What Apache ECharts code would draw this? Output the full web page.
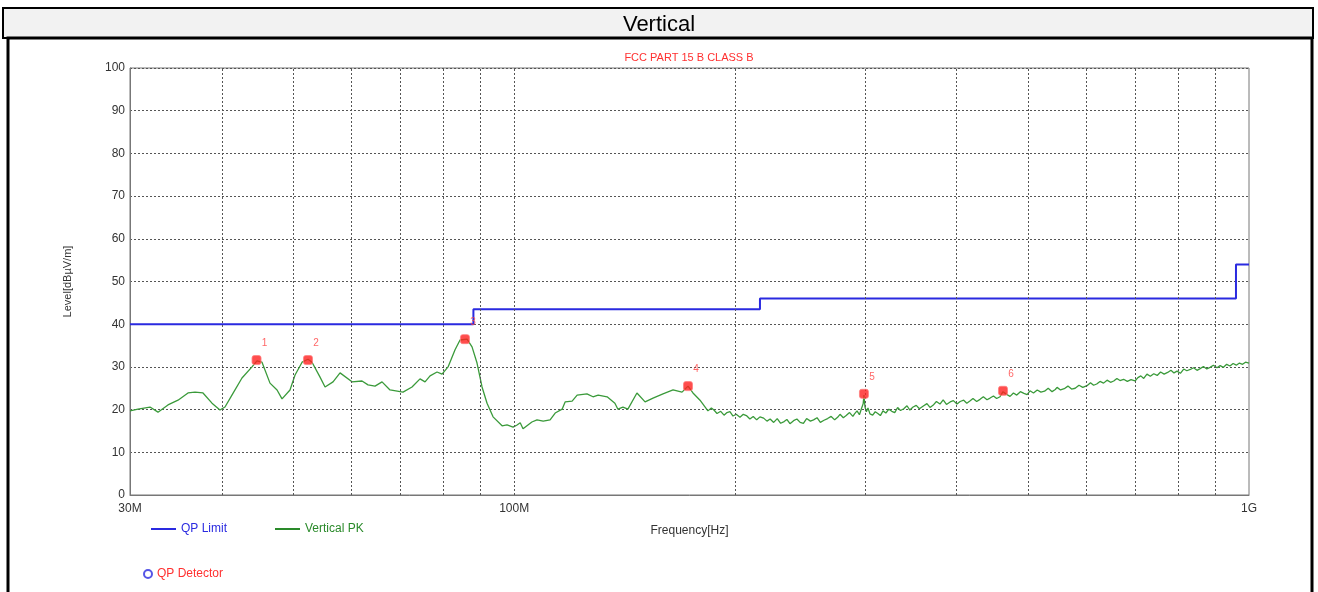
<!DOCTYPE html>
<html>
<head>
<meta charset="utf-8">
<script src="https://cdn.jsdelivr.net/npm/echarts@6/dist/echarts.min.js"></script>
<style>
html,body{margin:0;padding:0;background:#fff;}
#chart{width:1318px;height:592px;}
</style>
</head>
<body>
<div id="chart"></div>
<script>
// ---- data ----
const headerTitle = 'Vertical';
const chartTitle = 'FCC PART 15 B CLASS B';
const xTickLabels = {30: '30M', 100: '100M', 1000: '1G'};
const xGridFreqs = [40,50,60,70,80,90,100,200,300,400,500,600,700,800,900];

// QP limit (MHz, dBuV/m) as step points
const limitFreq  = [30, 88, 88, 216, 216, 960, 960, 1000];
const limitLevel = [40, 40, 43.5, 43.5, 46, 46, 54, 54];

// Vertical PK trace (MHz, dBuV/m)
const pkFreq = [
30.0,30.76,31.94,32.75,33.79,34.87,35.98,36.78,37.71,38.79,39.77,40.40,41.29,42.61,43.97,44.66,45.37,46.52,47.56,48.31,
49.53,50.32,51.44,52.41,53.07,54.42,55.28,56.68,57.94,60.15,62.07,63.25,64.65,66.09,67.76,70.58,72.60,74.44,75.62,76.82,
78.52,79.76,81.28,83.08,84.39,86.26,87.62,89.00,90.41,91.84,93.59,96.27,97.79,99.64,100.9,101.9,102.8,105.7,107.4,109.5,
111.9,113.7,116.2,117.3,119.9,121.8,125.6,128.0,130.1,133.8,137.1,138.4,140.6,142.8,146.9,150.7,154.5,159.4,164.5,169.2,
172.4,175.1,179.0,
183.5,185.5,187,188.8,191,193,194.8,196.6,198.5,200.5,202.9,205,207,209.3,211.5,213.8,216,218.5,220.8,223,
225.5,228,230.5,233,235,237.3,240,242.5,245,247.5,250,253,255.5,258.3,261,264,267,270,273,275.5,
277.6,280.5,283,286,289,290.5,292.8,295,297,298.5,299.2,300.2,301.5,303,304.9,307.5,310,312.5,315,317.6,
320.5,323.5,326.5,329.5,332.5,335.5,339,342.4,345.5,349,352.5,356,360,364.5,368,371.5,375.5,379.7,383.5,387.5,
392,396,400.5,404.5,409,413,417,421.1,426,430.5,435,440,444.2,449,453.5,458.3,462.6,467.5,472.9,478,
483,488.5,494,499,503.4,509,515,521,527,533,539.5,545,548,554,560.5,567,573.5,580,587,594,
601.9,608.5,614.5,620.5,626.9,634,641,648,654.5,661,667.4,675,683,691,699.6,706,712.5,719,726.3,734,
742,750,758,766.5,775,783,790.5,798.2,806.5,815,823,832,840.5,849.7,858,867,876,885,894.5,904.5,
913.5,923,932.5,942,951.5,961,970.5,980,989,993.5,1000
];
const pkLevel = [
19.7,20.1,20.6,19.4,21.1,22.2,23.9,24.1,23.9,21.5,19.9,20.6,23.4,27.4,30.0,31.4,31.1,26.2,24.6,22.5,
24.6,28.1,31.1,31.8,31.1,27.6,25.3,26.5,28.6,26.5,26.7,25.8,25.5,26.5,24.6,24.1,25.3,27.2,26.5,27.9,
28.8,28.3,30.0,34.0,36.3,36.5,34.7,30.9,25.3,21.5,18.3,16.2,16.4,15.9,16.4,16.9,15.5,17.1,17.6,17.3,
17.6,19.2,20.1,21.8,22.0,23.4,23.7,23.0,23.4,23.0,21.5,20.1,20.6,20.1,23.9,21.8,22.7,23.7,24.6,24.1,
25.5,23.9,22.2,
19.7,20.4,19.9,19.1,19.6,18.7,19.3,19.5,18.5,18.9,18.2,18.9,18.6,17.8,18.4,17.6,18.3,18.0,17.3,17.8,
17.0,17.9,16.8,17.2,17.7,16.7,17.4,17.8,17.0,16.8,17.9,17.3,17.6,18.1,17.0,17.5,17.9,18.4,17.6,18.2,
18.9,18.1,18.6,19.3,18.4,19.0,19.7,18.8,20.3,21.4,23.4,20.6,19.5,20.4,19.0,18.7,19.5,19.1,18.6,19.7,
19.2,20.1,19.6,19.3,20.5,19.8,20.2,20.9,19.9,20.6,21.0,20.2,20.8,21.4,20.5,21.0,21.9,21.3,22.3,21.2,
21.8,22.1,21.3,21.9,22.2,21.5,22.0,22.6,21.9,22.4,23.0,22.3,22.7,23.2,22.6,23.0,24.2,23.6,23.1,23.9,
23.4,24.2,23.8,23.5,24.4,23.9,24.6,24.1,24.3,25.0,24.2,24.7,25.2,24.6,24.9,25.5,24.8,25.0,25.7,25.2,
25.6,26.3,25.7,26.0,26.6,26.2,26.9,26.4,26.7,27.3,26.8,27.1,26.6,27.0,26.7,27.5,27.9,27.3,28.3,27.8,
28.4,28.0,28.8,28.3,28.7,29.2,28.6,29.0,28.5,29.5,29.1,29.4,29.8,29.2,29.6,30.1,29.5,29.9,30.4,29.8,
30.3,29.9,30.6,30.2,30.8,30.4,30.9,30.6,31.1,30.7,30.9
];

// Peak markers
const markerFreq  = [44.6, 52.4, 85.7, 172.4, 299.2, 462.6];
const markerLevel = [31.6, 31.6, 36.5, 25.5, 23.7, 24.4];
const markerNames = ['1','2','3','4','5','6'];

// ---- build ----
const pkData = pkFreq.map((f,i)=>[f,pkLevel[i]]);
const limitData = limitFreq.map((f,i)=>[f,limitLevel[i]]);
const markerData = markerFreq.map((f,i)=>({value:[f,markerLevel[i]], name:markerNames[i]}));

const FONT = '"Liberation Sans", Arial, sans-serif';
const chart = echarts.init(document.getElementById('chart'), null, {renderer:'canvas'});

chart.setOption({
  animation:false,
  backgroundColor:'#fff',
  textStyle:{fontFamily:FONT},
  title:{
    text:chartTitle, left:689, top:52, padding:0, textAlign:'center',
    textStyle:{color:'#ff3030', fontSize:11, fontWeight:'normal', fontFamily:FONT}
  },
  graphic:[
    {type:'rect', shape:{x:3,y:8,width:1310,height:30}, style:{fill:'#f2f2f2', stroke:'#000', lineWidth:2}, z:-1},
    {type:'rect', shape:{x:8,y:38,width:1304,height:570}, style:{fill:'none', stroke:'#000', lineWidth:3}, z:-1},
    {type:'text', left:'center', top:14, style:{text:headerTitle, fill:'#000', font:'22px "Liberation Sans", Arial, sans-serif'}}
  ],
  grid:{left:130, right:69, top:68, bottom:97, show:true, borderColor:'#777', borderWidth:1, backgroundColor:'#fff'},
  legend:[
    {left:146, top:518, itemWidth:25, itemHeight:2, itemGap:48, icon:'rect',
     data:[{name:'QP Limit', textStyle:{color:'#2a2ae0'}},{name:'Vertical PK', textStyle:{color:'#2a8a2a'}}],
     textStyle:{fontSize:12, fontFamily:FONT}, selectedMode:false},
    {left:138, top:563, itemWidth:8, itemHeight:8, icon:'circle',
     data:[{name:'QP Detector', textStyle:{color:'#ff3030'}, itemStyle:{color:'#fff', borderColor:'#2a2ae0', borderWidth:2}}],
     textStyle:{fontSize:12, fontFamily:FONT}, selectedMode:false}
  ],
  xAxis:{
    type:'log', logBase:10, min:30, max:1000,
    name:'Frequency[Hz]', nameLocation:'middle', nameGap:30,
    nameTextStyle:{color:'#333', fontSize:12, fontFamily:FONT},
    axisLine:{lineStyle:{color:'#777'}},
    axisTick:{show:false},
    splitLine:{show:false},
    axisLabel:{color:'#333', fontSize:12, margin:8, showMinLabel:true, showMaxLabel:true,
      formatter:v=>{const r=Math.round(v); return xTickLabels[r]||'';}}
  },
  yAxis:{
    type:'value', min:0, max:100, interval:10,
    name:'Level[dBµV/m]', nameLocation:'middle', nameGap:57,
    nameTextStyle:{color:'#333', fontSize:11, fontFamily:FONT},
    axisLine:{show:true, lineStyle:{color:'#777'}},
    axisTick:{show:false},
    axisLabel:{color:'#333', fontSize:12, margin:5},
    splitLine:{lineStyle:{color:'#555', type:[2,2], width:1}}
  },
  series:[
    {name:'QP Limit', type:'line', data:limitData, showSymbol:false, symbol:'none',
     lineStyle:{color:'#2a2ae0', width:2}, itemStyle:{color:'#2a2ae0'}, z:3,
     markLine:{silent:true, symbol:'none', label:{show:false},
       lineStyle:{color:'#555', type:[2,2], width:1},
       data:xGridFreqs.map(f=>({xAxis:f}))}},
    {name:'Vertical PK', type:'line', data:pkData, showSymbol:false, symbol:'none',
     lineStyle:{color:'#3a9a3a', width:1.3}, itemStyle:{color:'#2a8a2a'}, z:4},
    {name:'QP Detector', type:'scatter', data:[], symbol:'emptyCircle', itemStyle:{color:'#2a2ae0'}},
    {name:'Markers', type:'scatter', data:markerData, symbol:'roundRect', symbolSize:9,
     itemStyle:{color:'#ff2020', borderColor:'#ff8080', borderWidth:1}, z:6,
     label:{show:true, formatter:p=>p.name, position:'top', offset:[8,-2], color:'#ff4040', fontSize:10, fontFamily:FONT}}
  ]
});
</script>
</body>
</html>
